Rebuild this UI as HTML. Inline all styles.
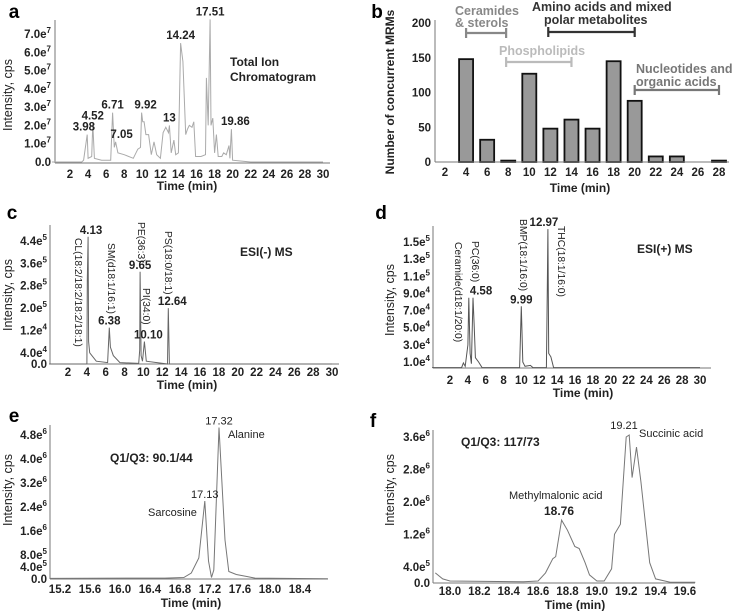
<!DOCTYPE html>
<html><head><meta charset="utf-8"><style>
html,body{margin:0;padding:0;background:#fff}
svg{display:block;font-family:"Liberation Sans",Arial,sans-serif}
.t{font-size:11.5px;font-weight:bold;fill:#222}
.ti{font-size:12px;font-weight:bold;fill:#222}
.yt{font-size:12.5px;fill:#222}
.pl{font-size:19px;font-weight:bold;fill:#000}
.an{font-size:11px;fill:#222}
</style></head><body>
<svg id="s" width="734" height="611" viewBox="0 0 734 611" xmlns="http://www.w3.org/2000/svg"></svg>
<script>
// ---- data ----
const aTimes=[0,3.3,3.5,3.9,4.0,4.4,4.52,4.7,5.5,6.5,6.71,6.9,7.05,7.3,8,9,9.5,9.8,9.92,10.05,10.2,10.4,10.7,11,11.3,11.6,12,12.3,12.6,12.9,13,13.2,13.5,13.7,14.0,14.24,14.5,14.8,15.0,15.2,15.5,15.7,15.9,16.5,17.0,17.1,17.3,17.51,17.6,17.8,18.0,18.2,18.4,18.8,19,19.3,19.6,19.7,19.86,20.0,21,22,30];
const aVals=[0,0,0.1,1.5,0.2,0.3,2.1,0.2,0.1,0.1,2.7,0.8,1.1,0.5,0.4,0.2,0.7,0.8,2.7,2.2,2.2,1.5,1.5,0.4,1.1,0.4,0.2,1.6,1.9,1.6,2.0,0.5,1.2,0.4,0.5,6.5,5.5,1.5,1.8,2.0,1.9,2.2,0.3,0.3,0.4,4.6,2.0,7.8,2.0,2.4,0.5,1.5,0.3,0.3,0.5,0.4,0.9,0.2,1.8,0.1,0.05,0,0];
const bCats=[2,4,6,8,10,12,14,16,18,20,22,24,26,28];
const bVals=[0,148,32,2,127,48,61,48,145,88,8,8,0,2];
const cTimes=[0,4.0,4.05,4.13,4.18,4.3,5,6.2,6.38,6.5,6.8,7.5,9.5,9.6,9.65,9.75,9.9,10.1,10.3,12.55,12.64,12.75,30];
const cVals=[0,0,3.0,4.55,0.8,0.4,0.1,0.05,1.3,0.6,0.3,0.05,0.02,0.5,3.3,0.3,0.1,0.8,0.1,0,2.0,0,0];
const dTimes=[0,3.3,3.5,3.7,4.0,4.1,4.25,4.4,4.58,4.7,4.85,5.2,5.6,9.8,9.99,10.15,10.4,11,11.3,12.8,12.9,12.97,13.05,13.3,13.6,30];
const dVals=[0.35,0.35,0.9,0.5,3,8.5,2,0.8,8.5,5.5,1.5,1.0,0.35,0.35,7.5,1,0.5,0.6,0.35,0.35,9.5,16.5,2,1.6,0.35,0.35];
const eTimes=[15.07,16.4,16.6,16.85,16.95,17.05,17.13,17.18,17.22,17.25,17.32,17.4,17.45,17.55,17.7,17.8,18.77];
const eVals=[0.02,0.03,0.03,0.05,0.2,0.7,2.6,0.6,0.05,0.3,5.05,1.3,0.25,0.15,0.08,0.03,0.01];
const fTimes=[17.9,17.95,18.0,18.5,18.6,18.65,18.7,18.72,18.76,18.8,18.85,18.88,18.92,18.95,19.0,19.05,19.1,19.12,19.16,19.2,19.22,19.24,19.27,19.3,19.33,19.36,19.4,19.5,19.67];
const fVals=[0.25,0.1,0.05,0.03,0.05,0.25,0.6,0.65,1.55,1.3,0.9,0.85,0.5,0.2,0.05,0.05,0.35,1.2,1.45,3.6,3.65,2.6,3.35,2.5,1.5,0.5,0.1,0.02,0.02];
const xTicks2=[2,4,6,8,10,12,14,16,18,20,22,24,26,28,30];
const aYTicks=[0,1,2,3,4,5,6,7];
const bYTicks=[0,50,100,150,200];
const cYTicks=[[0,"0.0",""],[0.4,"4.0e","4"],[1.2,"1.2e","4"],[2.0,"2.0e","5"],[2.8,"2.8e","5"],[3.6,"3.6e","5"],[4.4,"4.4e","5"]];
const dYTicks=[[1,"1.0e","4"],[3,"3.0e","4"],[5,"5.0e","4"],[7,"7.0e","4"],[9,"9.0e","4"],[11,"1.1e","5"],[13,"1.3e","5"],[15,"1.5e","5"]];
const eXTicks=["15.2","15.6","16.0","16.4","16.8","17.2","17.6","18.0","18.4"];
const eYTicks=[[0,"0.0",""],[0.4,"4.0e","5"],[0.8,"8.0e","5"],[1.6,"1.6e","6"],[2.4,"2.4e","6"],[3.2,"3.2e","6"],[4.0,"4.0e","6"],[4.8,"4.8e","6"]];
const fXTicks=["18.0","18.2","18.4","18.6","18.8","19.0","19.2","19.4","19.6"];
const fYTicks=[[0,"0.0",""],[0.4,"4.0e","5"],[1.2,"1.2e","6"],[2.0,"2.0e","6"],[2.8,"2.8e","6"],[3.6,"3.6e","6"]];

const S=document.getElementById('s');const NS='http://www.w3.org/2000/svg';
function el(tag,at,txt){const e=document.createElementNS(NS,tag);for(const k in at)e.setAttribute(k,at[k]);if(txt!=null)e.textContent=txt;S.appendChild(e);return e;}
function lin(d0,d1,r0,r1){return v=>r0+(v-d0)/(d1-d0)*(r1-r0);}
function axes(x0,x1,y0,yTop,name){
 let l=el('line',{x1:x0,y1:yTop,x2:x0,y2:y0,stroke:'#777','stroke-width':1});
 
 l=el('line',{x1:x0,y1:y0,x2:x1,y2:y0,stroke:'#777','stroke-width':1});
 
}
function txt(x,y,s,cls,anchor,name,rot){
 const at={x:x,y:y,class:cls,'text-anchor':anchor||'middle'};
 if(rot)at.transform='rotate(-90 '+x+' '+y+')';
 const t=el('text',at,s);return t;
}
function sup(x,y,base,ex,name){
 const t=el('text',{x:x,y:y,class:'t','text-anchor':'end'});
 
 t.appendChild(document.createTextNode(base));
 if(ex){const s=document.createElementNS(NS,'tspan');s.setAttribute('font-size','8');s.setAttribute('dy','-5');s.textContent=ex;t.appendChild(s);}
}
function trace(ts,vs,X,Y,color,name,w){
 let d='';ts.forEach((t,i)=>{d+=(i?'L':'M')+X(t).toFixed(1)+','+Y(vs[i]).toFixed(1);});
 const p=el('path',{d:d,fill:'none',stroke:color,'stroke-width':w||1});
 
}
function vlabel(x,y,s,name){
 const t=el('text',{x:x,y:y,class:'an','text-anchor':'start',transform:'rotate(90 '+x+' '+y+')',style:'font-size:10.3px'},s);
 
}

// ---- panel a ----
{const X=lin(2,30,70,323),Y=lin(0,7,162,34);
 axes(55,330,163,20,'panel-a');
 txt(14,18,'a','pl','middle','panel-a-label');
 xTicks2.forEach(v=>txt(X(v),178,String(v),'t','middle','panel-a-x-tick'));
 aYTicks.forEach(v=>sup(51,Y(v)+4,v===0?'0.0':v+'.0e',v===0?'':'7','panel-a-y-tick'));
 txt(187,190,'Time (min)','ti','middle','panel-a-x-title');
 txt(12,95,'Intensity, cps','yt','middle','panel-a-y-title',true);
 trace(aTimes,aVals,X,Y,'#aaa','panel-a-tic-trace');
 [[3.98,1.5,'3.98',-4],[4.52,2.1,'4.52',0],[6.71,2.7,'6.71',0],[7.05,1.1,'7.05',6],[9.92,2.7,'9.92',4],[13,2.0,'13',0],[14.24,6.5,'14.24',0],[17.51,7.8,'17.51',0],[19.86,1.8,'19.86',4]].forEach(p=>txt(X(p[0])+p[3],Y(p[1])-4,p[2],'t','middle','panel-a-peak-label'));
 txt(230,66,'Total Ion','ti','start','panel-a-legend-line1');txt(230,81,'Chromatogram','ti','start','panel-a-legend-line2');
}
// ---- panel b ----
{const X=lin(2,28,445,719),Y=lin(0,200,162,23);
 txt(377,18,'b','pl','middle','panel-b-label');
 bVals.forEach((v,i)=>{const r=el('rect',{x:X(bCats[i])-7,y:Y(v),width:14,height:Y(0)-Y(v),fill:'#999',stroke:'#111','stroke-width':1.8});
  });
 axes(435,729,162,20,'panel-b');
 bCats.forEach(v=>txt(X(v),176,String(v),'t','middle','panel-b-x-tick'));
 bYTicks.forEach(v=>txt(431,Y(v)+4,String(v),'t','end','panel-b-y-tick'));
 txt(580,192,'Time (min)','ti','middle','panel-b-x-title');
 txt(394,92,'Number of concurrent MRMs','ti','middle','panel-b-y-title',true);
 function br(t0,t1,y,c,name){const a={stroke:c,'stroke-width':2.2};
  let l=el('line',Object.assign({x1:X(t0),y1:y,x2:X(t1),y2:y},a));
  [t0,t1].forEach(t=>{l=el('line',Object.assign({x1:X(t),y1:y-5,x2:X(t),y2:y+5},a));});}
 br(4,7.8,33,'#888','bracket-ceramides');br(11.8,20,32,'#333','bracket-amino-acids');br(7.8,14,62,'#bbb','bracket-phospholipids');br(20,28,90,'#777','bracket-nucleotides');
 function lab(x,y,s,c,name){const t=txt(x,y,s,'ti','start',name);t.setAttribute('style','fill:'+c+';font-size:12.5px');}
 lab(455,15,'Ceramides','#888','label-ceramides-1');lab(455,27,'& sterols','#888','label-ceramides-2');
 lab(532,11,'Amino acids and mixed','#333','label-amino-1');lab(544,24,'polar metabolites','#333','label-amino-2');
 lab(499,55,'Phospholipids','#bbb','label-phospholipids');
 lab(636,73,'Nucleotides and','#777','label-nucleotides-1');lab(636,86,'organic acids','#777','label-nucleotides-2');
}
// ---- panel c ----
{const X=lin(2,30,68,332),Y=lin(0,4.4,364,241);
 axes(50,339,364,225,'panel-c');
 txt(12,219,'c','pl','middle','panel-c-label');
 xTicks2.forEach(v=>txt(X(v),376,String(v),'t','middle','panel-c-x-tick'));
 cYTicks.forEach(v=>sup(47,Y(v[0])+4,v[1],v[2],'panel-c-y-tick'));
 txt(187,389,'Time (min)','ti','middle','panel-c-x-title');
 txt(12,295,'Intensity, cps','yt','middle','panel-c-y-title',true);
 trace(cTimes,cVals,X,Y,'#666','panel-c-trace');
 [[4.13,4.55,'4.13',3],[6.38,1.3,'6.38',0],[9.65,3.3,'9.65',0],[10.1,0.8,'10.10',4],[12.64,2.0,'12.64',4]].forEach(p=>txt(X(p[0])+p[3],Y(p[1])-3,p[2],'t','middle','panel-c-peak-label'));
 vlabel(75,238,'CL(18:2/18:2/18:2/18:1)','label-cl');vlabel(108,243,'SM(d18:1/16:1)','label-sm');
 vlabel(138,222,'PE(36:3)','label-pe');vlabel(143,288,'PI(34:0)','label-pi');vlabel(165,231,'PS(18:0/18:1)','label-ps');
 txt(240,256,'ESI(-) MS','ti','start','panel-c-mode-label');
}
// ---- panel d ----
{const X=lin(2,30,450,700),Y=lin(1,15,362,242);
 axes(433,711,368,226,'panel-d');
 txt(381,219,'d','pl','middle','panel-d-label');
 xTicks2.forEach(v=>txt(X(v),384,String(v),'t','middle','panel-d-x-tick'));
 dYTicks.forEach(v=>sup(430,Y(v[0])+4,v[1],v[2],'panel-d-y-tick'));
 txt(583,397,'Time (min)','ti','middle','panel-d-x-title');
 txt(394,300,'Intensity, cps','yt','middle','panel-d-y-title',true);
 trace(dTimes,dVals,X,Y,'#555','panel-d-trace');
 [[4.58,8.5,'4.58',8],[9.99,7.5,'9.99',0],[12.97,16.5,'12.97',-4]].forEach(p=>txt(X(p[0])+p[3],Y(p[1])-3,p[2],'t','middle','panel-d-peak-label'));
 vlabel(455,242,'Ceramide(d18:1/20:0)','label-ceramide');vlabel(472,241,'PC(36:0)','label-pc');
 vlabel(520,219,'BMP(18:1/16:0)','label-bmp');vlabel(558,226,'THC(18:1/16:0)','label-thc');
 txt(637,253,'ESI(+) MS','ti','start','panel-d-mode-label');
}
// ---- panel e ----
{const X=lin(15.2,18.4,60,300),Y=lin(0,4.8,579,435);
 axes(50,328,579,425,'panel-e');
 txt(14,422,'e','pl','middle','panel-e-label');
 eXTicks.forEach(v=>txt(X(+v),593,v,'t','middle','panel-e-x-tick'));
 eYTicks.forEach(v=>sup(47,Y(v[0])+4,v[1],v[2],'panel-e-y-tick'));
 txt(191,607,'Time (min)','ti','middle','panel-e-x-title');
 txt(12,490,'Intensity, cps','yt','middle','panel-e-y-title',true);
 trace(eTimes,eVals,X,Y,'#777','panel-e-trace');
 txt(X(17.13),Y(2.6)-3,'17.13','an','middle','panel-e-peak-label');txt(X(17.32),Y(5.05)-3,'17.32','an','middle','panel-e-peak-label');
 txt(228,438,'Alanine','an','start','label-alanine');txt(148,516,'Sarcosine','an','start','label-sarcosine');
 txt(110,462,'Q1/Q3: 90.1/44','ti','start','panel-e-transition');
}
// ---- panel f ----
{const X=lin(18.0,19.6,450,685),Y=lin(0,3.6,583,437);
 axes(433,695,583,430,'panel-f');
 txt(373,427,'f','pl','middle','panel-f-label');
 fXTicks.forEach(v=>txt(X(+v),595,v,'t','middle','panel-f-x-tick'));
 fYTicks.forEach(v=>sup(430,Y(v[0])+4,v[1],v[2],'panel-f-y-tick'));
 txt(575,609,'Time (min)','ti','middle','panel-f-x-title');
 txt(394,490,'Intensity, cps','yt','middle','panel-f-y-title',true);
 trace(fTimes,fVals,X,Y,'#777','panel-f-trace');
 txt(624,429,'19.21','an','middle','panel-f-peak-label');
 txt(559,515,'18.76','ti','middle','panel-f-peak-label-1876');
 txt(509,499,'Methylmalonic acid','an','start','label-methylmalonic');
 txt(639,437,'Succinic acid','an','start','label-succinic');
 txt(461,446,'Q1/Q3: 117/73','ti','start','panel-f-transition');
}
</script>
</body></html>
